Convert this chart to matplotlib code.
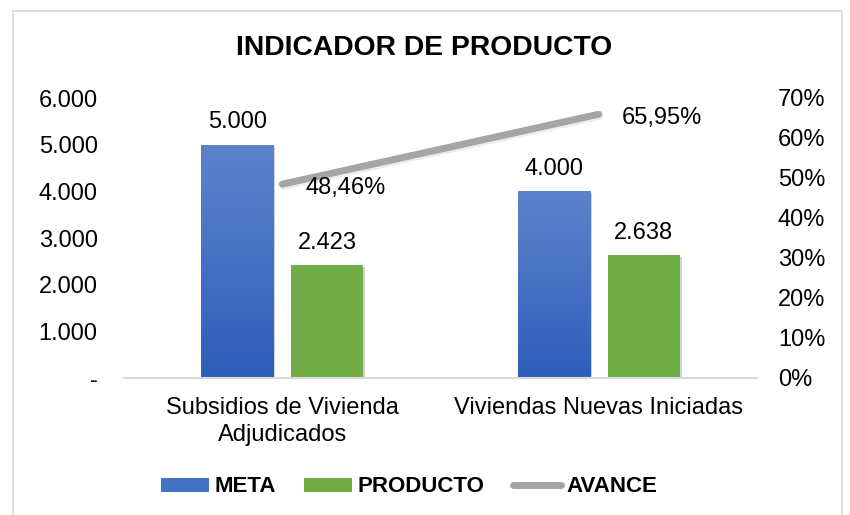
import matplotlib
matplotlib.use("Agg")
import matplotlib.pyplot as plt
import numpy as np
from matplotlib.patches import Rectangle
from matplotlib.lines import Line2D
import matplotlib.patheffects as pe

plt.rcParams['font.family'] = ['Liberation Sans', 'DejaVu Sans']

categories = ["Subsidios de Vivienda\nAdjudicados", "Viviendas Nuevas Iniciadas"]
meta = [5000, 4000]
producto = [2423, 2638]
avance = [48.46, 65.95]
meta_labels = ["5.000", "4.000"]
producto_labels = ["2.423", "2.638"]
avance_labels = ["48,46%", "65,95%"]
left_ticks = [0, 1000, 2000, 3000, 4000, 5000, 6000]
left_ticklabels = ["-", "1.000", "2.000", "3.000", "4.000", "5.000", "6.000"]
right_ticks = [0, 10, 20, 30, 40, 50, 60, 70]
right_ticklabels = ["0%", "10%", "20%", "30%", "40%", "50%", "60%", "70%"]

FS = 17

fig = plt.figure(figsize=(8.5, 5.15), dpi=100)
fig.patches.append(Rectangle((13/850, -10/515), 829/850, 514/515,
                             transform=fig.transFigure, fill=False,
                             edgecolor="#D9D9D9", linewidth=1.2))

ax = fig.add_axes([124/850, 1-378/515, 633/850, 280/515])
x = np.arange(len(categories))
w = 0.2275
off = 0.1425

blue_top = np.array([0x5E, 0x83, 0xCC]) / 255
blue_bot = np.array([0x2E, 0x5E, 0xBA]) / 255
grad = np.linspace(0, 1, 256)[:, None]
grad_img = blue_bot[None, None, :] * (1 - grad[:, :, None]) + blue_top[None, None, :] * grad[:, :, None]

shadow = [pe.SimplePatchShadow(offset=(1.5, -1.5), alpha=0.2), pe.Normal()]
bars_m = ax.bar(x - off, meta, w, color="#4472C4", zorder=2, path_effects=shadow)
bars_p = ax.bar(x + off, producto, w, color="#70AD47", zorder=2, path_effects=shadow)

for b in bars_m:
    bx, by = b.get_x(), b.get_y()
    bw, bh = b.get_width(), b.get_height()
    im = ax.imshow(grad_img, extent=(bx, bx + bw, by, by + bh), origin="lower",
                   aspect="auto", zorder=2.5, interpolation="bilinear")
    im.set_clip_path(b)

for b, lab in zip(bars_m, meta_labels):
    ax.annotate(lab, (b.get_x() + b.get_width()/2, b.get_height()), xytext=(0, 16),
                textcoords="offset points", ha="center", va="center", fontsize=FS, color="#000000")
for b, lab in zip(bars_p, producto_labels):
    ax.annotate(lab, (b.get_x() + b.get_width()/2, b.get_height()), xytext=(0, 16),
                textcoords="offset points", ha="center", va="center", fontsize=FS, color="#000000")

ax.set_xlim(-0.5, 1.5)
ax.set_ylim(0, 6000)
ax.set_yticks(left_ticks)
ax.set_yticklabels(left_ticklabels, fontsize=FS)
ax.set_xticks(x)
ax.set_xticklabels(categories, fontsize=FS, linespacing=1.24)
ax.tick_params(axis="both", length=0)
ax.tick_params(axis="y", pad=19)
ax.tick_params(axis="x", pad=14)
for s in ["top", "left", "right"]:
    ax.spines[s].set_visible(False)
ax.spines["bottom"].set_color("#D9D9D9")
ax.spines["bottom"].set_linewidth(1.5)
ax.set_facecolor("none")

ax2 = ax.twinx()
ax2.set_ylim(0, 70)
ax2.set_yticks(right_ticks)
ax2.set_yticklabels(right_ticklabels, fontsize=FS)
ax2.tick_params(axis="y", length=0, pad=15)
for s in ["top", "left", "right", "bottom"]:
    ax2.spines[s].set_visible(False)
ax2.plot(x, avance, color="#A5A5A5", linewidth=5, solid_capstyle="round", zorder=3,
         path_effects=[pe.SimpleLineShadow(offset=(1, -1.5), alpha=0.15, shadow_color="#808080"), pe.Normal()])
for xi, v, lab in zip(x, avance, avance_labels):
    ax2.annotate(lab, (xi, v), xytext=(16.5, -2.5), textcoords="offset points",
                 ha="left", va="center", fontsize=FS, color="#000000")

fig.text(424/850, 1-48/515, "INDICADOR DE PRODUCTO", ha="center", va="center",
         fontsize=20.3, fontweight="bold")

handles = [Rectangle((0, 0), 1, 1, facecolor="#4472C4"),
           Rectangle((0, 0), 1, 1, facecolor="#70AD47"),
           Line2D([0], [0], color="#A5A5A5", linewidth=5, solid_capstyle="round")]
leg = fig.legend(handles, ["META", "PRODUCTO", "AVANCE"], loc="center",
                 bbox_to_anchor=(409/850, 1-487/515), ncol=3, frameon=False,
                 prop={"weight": "bold", "size": 16}, handlelength=2.16,
                 handleheight=0.58, handletextpad=0.22, columnspacing=1.3)

fig.savefig("out.png", dpi=100)
